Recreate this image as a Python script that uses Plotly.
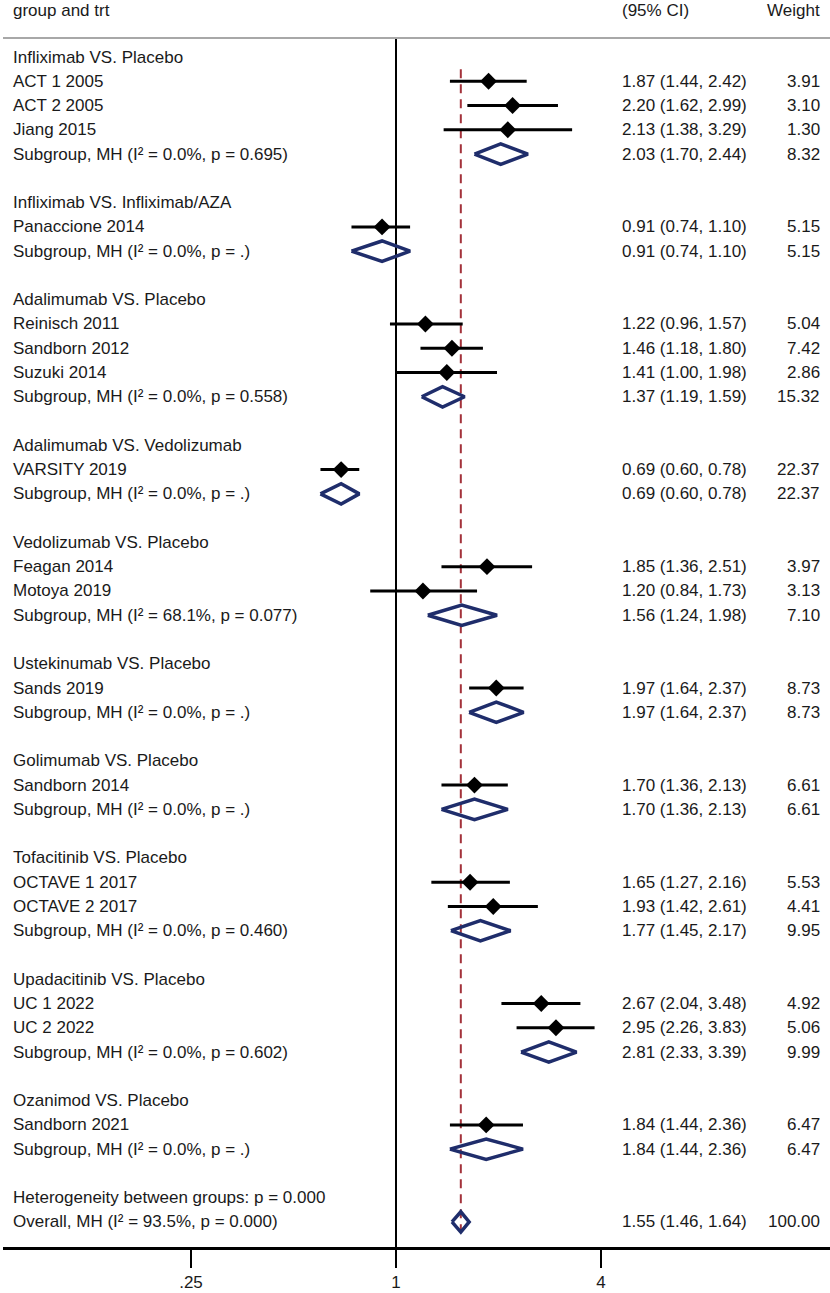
import plotly.graph_objects as go

# subgroup level data
group_names = ["Infliximab VS. Placebo", "Infliximab VS. Infliximab/AZA", "Adalimumab VS. Placebo",
               "Adalimumab VS. Vedolizumab", "Vedolizumab VS. Placebo", "Ustekinumab VS. Placebo",
               "Golimumab VS. Placebo", "Tofacitinib VS. Placebo", "Upadacitinib VS. Placebo",
               "Ozanimod VS. Placebo"]
group_i2 = ["0.0%", "0.0%", "0.0%", "0.0%", "68.1%", "0.0%", "0.0%", "0.0%", "0.0%", "0.0%"]
group_p = ["0.695", ".", "0.558", ".", "0.077", ".", ".", "0.460", "0.602", "."]
group_es = [2.03, 0.91, 1.37, 0.69, 1.56, 1.97, 1.70, 1.77, 2.81, 1.84]
group_lo = [1.70, 0.74, 1.19, 0.60, 1.24, 1.64, 1.36, 1.45, 2.33, 1.44]
group_hi = [2.44, 1.10, 1.59, 0.78, 1.98, 2.37, 2.13, 2.17, 3.39, 2.36]
group_wt = [8.32, 5.15, 15.32, 22.37, 7.10, 8.73, 6.61, 9.95, 9.99, 6.47]

# study level data
study_names = ["ACT 1 2005", "ACT 2 2005", "Jiang 2015", "Panaccione 2014", "Reinisch 2011",
               "Sandborn 2012", "Suzuki 2014", "VARSITY 2019", "Feagan 2014", "Motoya 2019",
               "Sands 2019", "Sandborn 2014", "OCTAVE 1 2017", "OCTAVE 2 2017", "UC 1 2022",
               "UC 2 2022", "Sandborn 2021"]
study_group = [0, 0, 0, 1, 2, 2, 2, 3, 4, 4, 5, 6, 7, 7, 8, 8, 9]
study_es = [1.87, 2.20, 2.13, 0.91, 1.22, 1.46, 1.41, 0.69, 1.85, 1.20, 1.97, 1.70, 1.65, 1.93, 2.67, 2.95, 1.84]
study_lo = [1.44, 1.62, 1.38, 0.74, 0.96, 1.18, 1.00, 0.60, 1.36, 0.84, 1.64, 1.36, 1.27, 1.42, 2.04, 2.26, 1.44]
study_hi = [2.42, 2.99, 3.29, 1.10, 1.57, 1.80, 1.98, 0.78, 2.51, 1.73, 2.37, 2.13, 2.16, 2.61, 3.48, 3.83, 2.36]
study_wt = [3.91, 3.10, 1.30, 5.15, 5.04, 7.42, 2.86, 22.37, 3.97, 3.13, 8.73, 6.61, 5.53, 4.41, 4.92, 5.06, 6.47]

het_p = "0.000"
overall_i2 = "93.5%"
overall_p = "0.000"
overall_es = 1.55
overall_lo = 1.46
overall_hi = 1.64
overall_wt = 100.00

tick_vals = [0.25, 1, 4]
tick_text = [".25", "1", "4"]

W, H = 830, 1293
ML, MB = 3, 46
ROW0, ROWH = 57, 24.27          # pixel y of first row, row height
X1PX, PX_PER_DEC = 396, 340.5   # pixel x of 1, pixels per decade

FONT = "Liberation Sans, Arial, sans-serif"
FS = 17
TXT = "#1a1a1a"
NAVY = "#1f2d6b"
RED = "#a3323a"


def paper_x(px):
    return (px - ML) / (W - ML)


def row_of(py):
    return (py - ROW0) / ROWH


# lay out rows
rows = []  # (kind, label, index)
for g, name in enumerate(group_names):
    rows.append(("head", name, g))
    for s in range(len(study_names)):
        if study_group[s] == g:
            rows.append(("study", study_names[s], s))
    rows.append(("sub", "Subgroup, MH (I² = %s, p = %s)" % (group_i2[g], group_p[g]), g))
    rows.append(("blank", "", None))
rows.append(("het", "Heterogeneity between groups: p = %s" % het_p, None))
rows.append(("overall", "Overall, MH (I² = %s, p = %s)" % (overall_i2, overall_p), None))

fig = go.Figure()
ann = []

ci_x, ci_y, pt_x, pt_y = [], [], [], []
dia_x, dia_y = [], []
hh = 0.42
overall_row = None

for r, (kind, label, idx) in enumerate(rows):
    if label:
        ann.append(dict(x=paper_x(11), y=r, text=label, xanchor="left"))
    vals = None
    if kind == "study":
        vals = (study_es[idx], study_lo[idx], study_hi[idx], study_wt[idx])
        ci_x += [study_lo[idx], study_hi[idx], None]
        ci_y += [r, r, None]
        pt_x.append(study_es[idx])
        pt_y.append(r)
    elif kind == "sub":
        vals = (group_es[idx], group_lo[idx], group_hi[idx], group_wt[idx])
    elif kind == "overall":
        vals = (overall_es, overall_lo, overall_hi, overall_wt)
        overall_row = r
    if kind in ("sub", "overall"):
        es, lo, hi, _ = vals
        dia_x += [lo, es, hi, es, lo, None]
        dia_y += [r, r - hh, r, r + hh, r, None]
    if vals:
        ann.append(dict(x=paper_x(620), y=r, text="%.2f (%.2f, %.2f)" % vals[:3], xanchor="left"))
        ann.append(dict(x=paper_x(822), y=r, text="%.2f" % vals[3], xanchor="right"))

# headers
ann.append(dict(x=paper_x(11), y=row_of(10), text="group and trt", xanchor="left"))
ann.append(dict(x=paper_x(620), y=row_of(10), text="(95% CI)", xanchor="left"))
ann.append(dict(x=paper_x(822), y=row_of(10), text="Weight", xanchor="right"))

for a in ann:
    a.update(xref="paper", yref="y", showarrow=False, yanchor="middle",
             font=dict(family=FONT, size=FS, color=TXT))

y_bottom = row_of(H - MB)
y_top = row_of(0)

# null line at 1
fig.add_trace(go.Scatter(x=[1, 1], y=[row_of(38), y_bottom], mode="lines",
                         line=dict(color="black", width=2), hoverinfo="skip"))
# overall effect dashed line
fig.add_trace(go.Scatter(x=[overall_es, overall_es], y=[0.5, overall_row + hh], mode="lines",
                         line=dict(color=RED, width=2, dash="9px,6px"), hoverinfo="skip"))
# study CIs
fig.add_trace(go.Scatter(x=ci_x, y=ci_y, mode="lines",
                         line=dict(color="black", width=3), hoverinfo="skip"))
fig.add_trace(go.Scatter(x=pt_x, y=pt_y, mode="markers",
                         marker=dict(symbol="diamond", size=13, color="black"), hoverinfo="skip"))
# pooled diamonds
fig.add_trace(go.Scatter(x=dia_x, y=dia_y, mode="lines",
                         line=dict(color=NAVY, width=3.5), hoverinfo="skip"))

fig.update_layout(
    width=W, height=H,
    margin=dict(l=ML, r=0, t=0, b=MB),
    plot_bgcolor="white", paper_bgcolor="white",
    showlegend=False,
    annotations=ann,
    shapes=[dict(type="line", xref="paper", yref="y", x0=0, x1=1, y0=row_of(38), y1=row_of(38),
                 line=dict(color="#a8a8a8", width=2))],
    xaxis=dict(type="log",
               range=[(ML - X1PX) / PX_PER_DEC, (W - X1PX) / PX_PER_DEC],
               showgrid=False, zeroline=False,
               showline=True, linecolor="black", linewidth=2.5,
               ticks="outside", ticklen=18, tickwidth=2, tickcolor="black",
               tickvals=tick_vals, ticktext=tick_text,
               tickfont=dict(family=FONT, size=FS, color=TXT)),
    yaxis=dict(range=[y_bottom, y_top], visible=False),
)

# page has an 8px default body margin; drop it so the figure sits at 0,0
fig.write_html("out.html", config={"displayModeBar": False},
               post_script="document.body.style.margin='0';")
